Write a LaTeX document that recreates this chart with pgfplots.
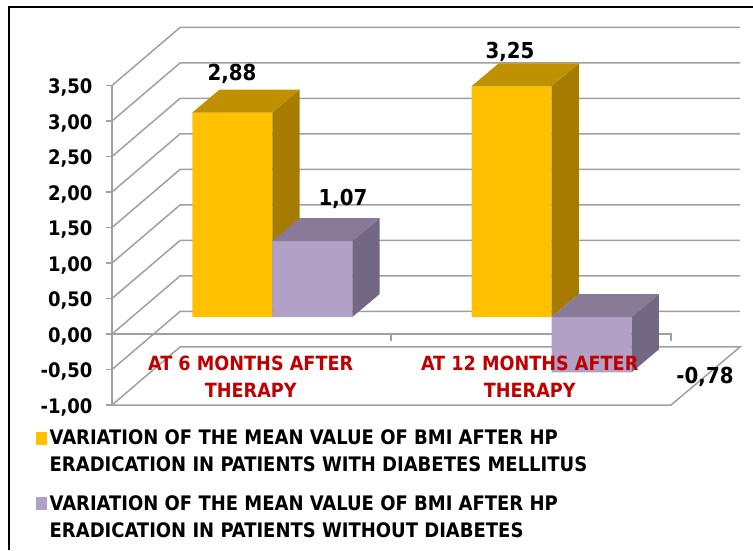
\documentclass[border=0pt]{standalone}
\usepackage{fontspec}
\setmainfont{DejaVu Sans Condensed}
\usepackage{pgfplots}
\pgfplotsset{compat=1.18}
\definecolor{gridc}{HTML}{A0A0A0}
\definecolor{gold}{HTML}{FFC000}
\definecolor{goldtop}{HTML}{BF9000}
\definecolor{goldside}{HTML}{A67C00}
\definecolor{lilac}{HTML}{B2A1C7}
\definecolor{lilactop}{HTML}{887A96}
\definecolor{lilacside}{HTML}{736883}
\definecolor{catred}{HTML}{C00000}
% axis units: x in picture pixels, y in chart values (71 px per unit)
\pgfplotsset{chartbase/.style={
  scale only axis,width=559pt,height=319.5pt,
  xmin=112,xmax=671,ymin=-1,ymax=3.5,clip=false},
  wall/.style={gridc,line width=1.5pt,forget plot}}
\newcommand{\lab}{\fontsize{22}{22}\selectfont\bfseries}
\begin{document}
\begin{tikzpicture}
\useasboundingbox (-112pt,-145pt) rectangle (641pt,405pt);
% walls and floor
\begin{axis}[chartbase,
  axis x line=none,axis y line*=left,
  y axis line style={draw=gridc,line width=1.5pt},
  xtick=\empty,
  ytick={-1,-0.5,0,0.5,1,1.5,2,2.5,3,3.5},
  major tick length=6pt,
  tick style={draw=gridc,line width=1.5pt},
  tick align=outside,
  y tick label style={font=\fontsize{20}{20}\selectfont\bfseries,xshift=-10pt,yshift=-2pt},
  /pgf/number format/assume math mode=true,
  /pgf/number format/.cd,fixed,fixed zerofill,precision=2,use comma]
\addplot[wall] coordinates {(112,3.5)(180,4.317)(740,4.317)};
\addplot[wall] coordinates {(112,3)(180,3.817)(740,3.817)};
\addplot[wall] coordinates {(112,2.5)(180,3.317)(740,3.317)};
\addplot[wall] coordinates {(112,2)(180,2.817)(740,2.817)};
\addplot[wall] coordinates {(112,1.5)(180,2.317)(740,2.317)};
\addplot[wall] coordinates {(112,1)(180,1.817)(740,1.817)};
\addplot[wall] coordinates {(112,0.5)(180,1.317)(740,1.317)};
\addplot[wall] coordinates {(112,0)(180,0.817)(740,0.817)};
\addplot[wall] coordinates {(112,-0.5)(180,0.317)(740,0.317)};
\addplot[wall] coordinates {(112,-1)(180,-0.183)(740,-0.183)(671,-1)(112,-1)};
\addplot[wall] coordinates {(112,0)(671,0)(671,-0.1)};
\addplot[wall] coordinates {(391,0)(391,-0.1)};
\end{axis}
% bars: same scale, floor of the bars 17 px above the zero line
\begin{axis}[chartbase,yshift=17pt,hide axis,
  legend style={at={(axis cs:36,-1.56)},anchor=north west,draw=none,fill=none,
    font=\fontsize{20}{27}\selectfont\bfseries,
    cells={anchor=west,align=left},row sep=18pt,inner sep=0pt,
    nodes={inner xsep=2.5pt}},
  legend image code/.code={\path[#1,draw=none] (0pt,7pt) rectangle (11pt,20pt);}]
\addplot[ybar,bar width=80pt,bar shift=0pt,fill=gold,draw=none]
  coordinates {(232.3,2.88)(511.5,3.25)};
\addlegendentry{VARIATION OF THE MEAN VALUE OF BMI AFTER HP\\ERADICATION IN PATIENTS WITH DIABETES MELLITUS}
\addplot[forget plot,fill=goldside,draw=none] coordinates
  {(272.3,0)(299.7,0.324)(299.7,3.204)(272.3,2.88)} -- cycle;
\addplot[forget plot,fill=goldtop,draw=none] coordinates
  {(192.3,2.88)(272.3,2.88)(299.7,3.204)(219.7,3.204)} -- cycle;
\addplot[forget plot,fill=goldside,draw=none] coordinates
  {(551.5,0)(578.9,0.324)(578.9,3.574)(551.5,3.25)} -- cycle;
\addplot[forget plot,fill=goldtop,draw=none] coordinates
  {(471.5,3.25)(551.5,3.25)(578.9,3.574)(498.9,3.574)} -- cycle;
\addplot[ybar,bar width=80pt,bar shift=0pt,fill=lilac,draw=none]
  coordinates {(312.3,1.07)(591.5,-0.78)};
\addlegendentry{VARIATION OF THE MEAN VALUE OF BMI AFTER HP\\ERADICATION IN PATIENTS WITHOUT DIABETES}
\addplot[forget plot,fill=lilacside,draw=none] coordinates
  {(352.3,0)(379.7,0.324)(379.7,1.394)(352.3,1.07)} -- cycle;
\addplot[forget plot,fill=lilactop,draw=none] coordinates
  {(272.3,1.07)(352.3,1.07)(379.7,1.394)(299.7,1.394)} -- cycle;
\addplot[forget plot,fill=lilacside,draw=none] coordinates
  {(631.5,0)(658.9,0.324)(658.9,-0.456)(631.5,-0.78)} -- cycle;
\addplot[forget plot,fill=lilactop,draw=none] coordinates
  {(551.5,0)(631.5,0)(658.9,0.324)(578.9,0.324)} -- cycle;
\node[font=\lab] at (axis cs:232,3.43) {2,88};
\node[font=\lab] at (axis cs:343,1.66) {1,07};
\node[font=\lab] at (axis cs:510,3.73) {3,25};
\node[font=\lab] at (axis cs:705,-0.84) {-0,78};
\node[font=\fontsize{19.6}{27}\selectfont\bfseries,text=catred,align=center]
  at (axis cs:250.7,-0.838) {AT 6 MONTHS AFTER\\THERAPY};
\node[font=\fontsize{19.6}{27}\selectfont\bfseries,text=catred,align=center]
  at (axis cs:529.7,-0.838) {AT 12 MONTHS AFTER\\THERAPY};
\end{axis}
% picture frame, open on the right and at the bottom
\draw[black,line width=2pt] (-103pt,-145pt) -- (-103pt,398.3pt) -- (641pt,398.3pt);
\end{tikzpicture}
\end{document}
